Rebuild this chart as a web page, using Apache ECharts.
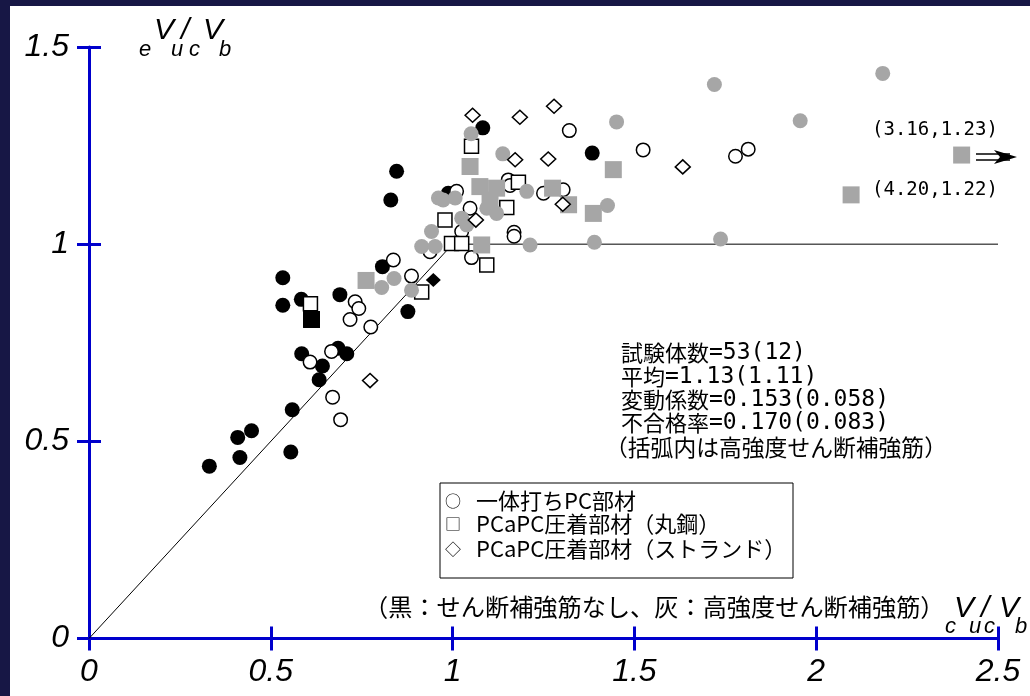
<!DOCTYPE html>
<html><head><meta charset="utf-8">
<script src="https://cdn.jsdelivr.net/npm/echarts@6/dist/echarts.min.js"></script>
<style>html,body{margin:0;padding:0;background:#171745;}#c{width:1030px;height:696px;}</style>
</head><body><div id="c"></div>
<script>
// ---- data (x = cVuc/Vb, y = eVuc/Vb) ----
const blackCircles = [[0.846,1.185],[0.830,1.112],[0.807,0.943],[0.533,0.915],[0.533,0.845],[0.584,0.860],[0.690,0.872],[0.585,0.722],[0.642,0.691],[0.633,0.656],[0.685,0.736],[0.709,0.722],[0.559,0.580],[0.555,0.473],[0.447,0.527],[0.409,0.510],[0.415,0.459],[0.331,0.437],[0.877,0.829],[0.988,1.129],[1.083,1.295],[1.384,1.231]];
const grayCircles = [[0.805,0.890],[0.839,0.913],[0.887,0.883],[0.915,0.994],[0.942,1.032],[0.952,0.994],[0.961,1.117],[0.974,1.112],[1.007,1.117],[1.025,1.066],[1.039,1.049],[1.051,1.280],[1.094,1.091],[1.121,1.078],[1.138,1.229],[1.204,1.134],[1.213,0.998],[1.390,1.005],[1.426,1.098],[1.451,1.310],[1.720,1.405],[1.737,1.013],[1.956,1.313],[2.183,1.433]];
const openCircles = [[0.837,0.960],[0.732,0.854],[0.742,0.837],[0.718,0.809],[0.775,0.790],[0.608,0.701],[0.667,0.728],[0.670,0.612],[0.692,0.555],[0.887,0.919],[1.011,1.134],[1.048,1.091],[1.025,1.032],[0.938,0.981],[1.052,0.966],[1.153,1.163],[1.158,1.149],[1.169,1.030],[1.169,1.020],[1.250,1.129],[1.304,1.138],[1.321,1.288],[1.524,1.239],[1.778,1.223],[1.813,1.241]];
const blackSquares = [[0.612,0.809]];
const graySquares = [[0.762,0.908],[1.048,1.197],[1.075,1.146],[1.121,1.142],[1.103,1.112],[1.080,0.998],[1.275,1.142],[1.319,1.100],[1.387,1.078],[1.442,1.189],[2.096,1.125],[2.400,1.226]];
const openSquares = [[0.609,0.849],[1.052,1.248],[1.181,1.157],[1.149,1.093],[0.979,1.061],[0.997,1.002],[1.025,1.002],[1.094,0.947],[0.915,0.879]];
const blackDiamonds = [[0.947,0.909]];
const openDiamonds = [[1.055,1.327],[1.185,1.322],[1.279,1.350],[1.172,1.214],[1.263,1.216],[1.064,1.061],[1.303,1.101],[1.633,1.196],[0.773,0.654]];
const refLine = [[0,0],[1,1],[2.5,1]];
const statKeys = ['試験体数','平均','変動係数','不合格率'];
const statVals = ['=53(12)','=1.13(1.11)','=0.153(0.058)','=0.170(0.083)'];
const statNote = '（括弧内は高強度せん断補強筋）';
const legendLabels = ['一体打ちPC部材','PCaPC圧着部材（丸鋼）','PCaPC圧着部材（ストランド）'];
const legendMarks = ['○','□','◇'];
const colorNote = '（黒：せん断補強筋なし、灰：高強度せん断補強筋）';
const offNotes = ['(3.16,1.23)','(4.20,1.22)'];

const BLUE = '#0000cc', GRAY = '#a6a6a6';
const JP = '"Noto Sans CJK JP"';
const MONO = '"DejaVu Sans Mono"';
const chart = echarts.init(document.getElementById('c'));

function txt(t, x, y, font, align, rich){
  const s = {text:t, x:x, y:y, font:font, fill:'#000',
    textAlign:align||'left', align:align||'left', textVerticalAlign:'middle', verticalAlign:'middle'};
  if (rich) s.rich = rich;
  return {type:'text', z:50, silent:true, style:s};
}
const big = 'italic 30px "Liberation Sans"', small = 'italic 22px "Liberation Sans"';
const statRich = {
  k:{fontFamily:'Noto Sans CJK JP', fontSize:22, verticalAlign:'middle', lineHeight:26},
  d:{fontFamily:'DejaVu Sans Mono', fontSize:23, verticalAlign:'middle', lineHeight:26}
};
const graphics = [
  {type:'rect', z:-100, silent:true, shape:{x:10,y:6,width:1020,height:690}, style:{fill:'#fff'}},
  // y title
  txt('e',139,50,small), txt('V',154,31,big), txt('u',171,50,small), txt('/',181,31,big),
  txt('c',189,50,small), txt('V',203,31,big), txt('b',219,50,small),
  // x title
  txt('c',945,627,small), txt('V',954,609,big), txt('u',969,627,small), txt('/',981,609,big),
  txt('c',984,627,small), txt('V',999,609,big), txt('b',1015,627,small),
  // stats
  txt('{k|'+statKeys[0]+'}{d|'+statVals[0]+'}',621,353,'22px '+JP,'left',statRich),
  txt('{k|'+statKeys[1]+'}{d|'+statVals[1]+'}',621,377,'22px '+JP,'left',statRich),
  txt('{k|'+statKeys[2]+'}{d|'+statVals[2]+'}',621,400,'22px '+JP,'left',statRich),
  txt('{k|'+statKeys[3]+'}{d|'+statVals[3]+'}',621,423,'22px '+JP,'left',statRich),
  txt(statNote,605,447,'22.8px '+JP),
  // legend
  {type:'rect', z:50, silent:true, shape:{x:440,y:483,width:353,height:95}, style:{fill:'#fff',stroke:'#000',lineWidth:1}},
  txt(legendMarks[0],453,501,'16px '+JP,'center'), txt(legendLabels[0],476,501,'22px '+JP),
  txt(legendMarks[1],453,524,'16px '+JP,'center'), txt(legendLabels[1],476,524,'22px '+JP),
  txt(legendMarks[2],453,549,'16px '+JP,'center'), txt(legendLabels[2],476,549,'22px '+JP),
  txt(colorNote,364,607,'24.2px '+JP),
  // off-scale annotations
  txt(offNotes[0],872,130,'19px '+MONO), txt(offNotes[1],872,190,'19px '+MONO),
  {type:'line', z:50, silent:true, shape:{x1:976,y1:154,x2:1010,y2:154}, style:{stroke:'#000',lineWidth:1.5}},
  {type:'line', z:50, silent:true, shape:{x1:976,y1:160,x2:1010,y2:160}, style:{stroke:'#000',lineWidth:1.5}},
  {type:'polygon', z:50, silent:true, shape:{points:[[994,150],[1017,157],[994,164],[1000,157]]}, style:{fill:'#000'}}
];

function sc(name, data, symbol, size, fill, stroke, z){
  return {name:name, type:'scatter', data:data, symbol:symbol, symbolSize:size, z:z,
    itemStyle:{color:fill, borderColor:stroke||fill, borderWidth:stroke?1.5:0, opacity:1}, emphasis:{disabled:true}};
}
const tickStyle = {color:BLUE, width:3};
const axisLabel = {fontFamily:'Liberation Sans', fontStyle:'italic', fontSize:32, color:'#000'};
chart.setOption({
  animation:false,
  backgroundColor:'#171745',
  grid:{left:89, top:47, right:32, bottom:57.5, containLabel:false},
  xAxis:[
    {type:'value', min:0, max:2.5, interval:0.5, axisLine:{lineStyle:tickStyle}, axisTick:{length:12, lineStyle:tickStyle},
     axisLabel:Object.assign({margin:18}, axisLabel), splitLine:{show:false}},
    {type:'value', min:0, max:2.5, interval:0.5, position:'bottom', axisLine:{show:false}, axisTick:{inside:true, length:12, lineStyle:tickStyle},
     axisLabel:{show:false}, splitLine:{show:false}}
  ],
  yAxis:[
    {type:'value', min:0, max:1.5, interval:0.5, axisLine:{lineStyle:tickStyle}, axisTick:{length:12, lineStyle:tickStyle},
     axisLabel:Object.assign({margin:20}, axisLabel), splitLine:{show:false}},
    {type:'value', min:0, max:1.5, interval:0.5, position:'left', axisLine:{show:false}, axisTick:{inside:true, length:12, lineStyle:tickStyle},
     axisLabel:{show:false}, splitLine:{show:false}}
  ],
  series:[
    {type:'line', data:refLine, symbol:'none', lineStyle:{color:'#000', width:1}, z:1, silent:true},
    sc('blackCircles', blackCircles, 'circle', 15, '#000', null, 2),
    sc('openCircles', openCircles, 'circle', 13.5, '#fff', '#000', 3),
    sc('openSquares', openSquares, 'rect', 14, '#fff', '#000', 4),
    sc('grayCircles', grayCircles, 'circle', 15, GRAY, null, 5),
    sc('graySquares', graySquares, 'rect', 17, GRAY, null, 6),
    sc('blackSquares', blackSquares, 'rect', 17, '#000', null, 7),
    sc('openDiamonds', openDiamonds, 'diamond', [15,14], '#fff', '#000', 8),
    sc('blackDiamonds', blackDiamonds, 'diamond', [15,14], '#000', null, 8)
  ],
  graphic:graphics
});
</script></body></html>
